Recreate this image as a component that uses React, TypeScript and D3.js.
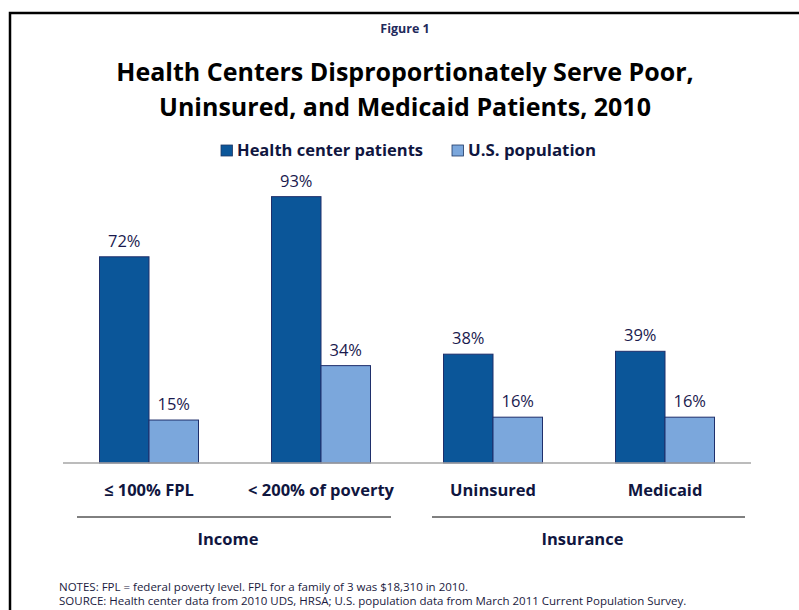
import React from 'react';
import * as d3 from 'd3';

const categories = ['≤ 100% FPL', '< 200% of poverty', 'Uninsured', 'Medicaid'];
const seriesNames = ['Health center patients', 'U.S. population'];
const healthCenter = [72, 93, 38, 39];
const usPopulation = [15, 34, 16, 16];
const groups = [
  { name: 'Income', from: 0, to: 1 },
  { name: 'Insurance', from: 2, to: 3 },
];
const notes = [
  'NOTES: FPL = federal poverty level. FPL for a family of 3 was $18,310 in 2010.',
  'SOURCE: Health center data from 2010 UDS, HRSA; U.S. population data from March 2011 Current Population Survey.',
];

const W = 799;
const H = 610;
const DARK = '#0B5699';
const LIGHT = '#7BA7DC';
const INK = '#1A1A4E';
const LABEL = '#10163F';
const FONT = "'Open Sans', 'Noto Sans', sans-serif";

export default function App() {
  // plot area
  const left = 63, right = 751, base = 463;
  const cx0 = 405;
  const x = d3.scaleBand<string>().domain(categories).range([left, right]);
  const y = d3.scaleLinear().domain([0, 100]).range([base, base - 286.4]);
  const barW = 49.5;
  const series = [healthCenter, usPopulation];
  const colors = [DARK, LIGHT];
  const legendX = [221, 452];
  // bracket line insets [start, end] per group
  const insets = [[14, 16], [25, 6]];

  return (
    <div style={{ position: 'absolute', left: 0, top: 0, width: W, height: H, background: '#fff' }}>
      <svg width={W} height={H} style={{ display: 'block', fontFamily: FONT }}>
        <rect width={W} height={H} fill="#fff" />
        {/* frame */}
        <path d={`M10,${H} V13 H${W}`} fill="none" stroke="#000" strokeWidth={2.5} />

        <text x={cx0} y={33} textAnchor="middle" fontSize={12.5} fontWeight="bold" fill="#1F2A5C">Figure 1</text>
        <text x={cx0} y={81} textAnchor="middle" fontSize={25} fontWeight="bold" fill="#000">Health Centers Disproportionately Serve Poor,</text>
        <text x={cx0} y={116} textAnchor="middle" fontSize={25} fontWeight="bold" fill="#000">Uninsured, and Medicaid Patients, 2010</text>

        {/* legend */}
        {seriesNames.map((s, i) => (
          <g key={s}>
            <rect x={legendX[i]} y={145} width={11.5} height={11} fill={colors[i]} stroke="#1F3864" strokeWidth={0.8} />
            <text x={legendX[i] + 16} y={156} fontSize={16} fontWeight="bold" fill={LABEL}
              textLength={i === 0 ? 186 : 128} lengthAdjust="spacingAndGlyphs">{s}</text>
          </g>
        ))}

        {/* bars */}
        {categories.map((c, ci) => {
          const cx = (x(c) as number) + x.bandwidth() / 2;
          return (
            <g key={c}>
              {series.map((vals, si) => {
                const bx = cx - barW + si * barW;
                const top = y(vals[ci]);
                return (
                  <g key={si}>
                    <rect x={bx} y={top} width={barW} height={base - top} fill={colors[si]} stroke="#1F2F6B" strokeWidth={1} />
                    <text x={bx + barW / 2} y={top - 10} textAnchor="middle" fontSize={16.5} fill={INK}>{vals[ci]}%</text>
                  </g>
                );
              })}
              <text x={cx} y={496} textAnchor="middle" fontSize={16.5} fontWeight="bold" fill={LABEL}>{c}</text>
            </g>
          );
        })}
        <line x1={left} x2={right} y1={base} y2={base} stroke="#A6A6A6" strokeWidth={1.5} />

        {/* group brackets */}
        {groups.map((g, gi) => {
          const x1 = (x(categories[g.from]) as number) + insets[gi][0];
          const x2 = (x(categories[g.to]) as number) + x.bandwidth() - insets[gi][1];
          return (
            <g key={g.name}>
              <line x1={x1} x2={x2} y1={517} y2={517} stroke="#000" strokeWidth={1} />
              <text x={(x1 + x2) / 2 - 6} y={545} textAnchor="middle" fontSize={16.5} fontWeight="bold" fill={LABEL}>{g.name}</text>
            </g>
          );
        })}

        {notes.map((n, i) => (
          <text key={i} x={59} y={591 + i * 14} fontSize={11.5} fill="#1A1A40">{n}</text>
        ))}
      </svg>
    </div>
  );
}
